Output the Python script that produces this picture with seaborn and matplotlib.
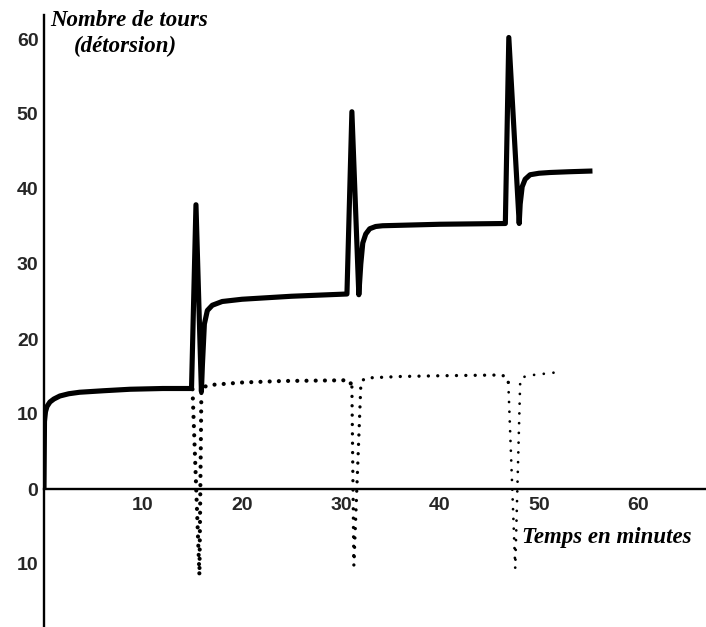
import matplotlib
matplotlib.use("Agg")
import matplotlib.pyplot as plt
import seaborn as sns
import pandas as pd

# ---- data ----
solid_t = [0, 0.05, 0.15, 0.3, 0.6, 1.0, 1.6, 2.5, 3.6, 6.0, 8.7, 12.0, 14.9,
           15.35, 15.9, 16.0, 16.2, 16.5, 17.0, 18.0, 20.0, 25.0, 30.6,
           31.1, 31.8, 32.0, 32.2, 32.5, 32.9, 33.5, 34.2, 40.0, 46.6,
           46.95, 48.0, 48.1, 48.3, 48.6, 49.1, 50.0, 51.1, 53.0, 55.4]
solid_v = [0, 9.0, 10.3, 11.0, 11.6, 12.0, 12.4, 12.7, 12.9, 13.1, 13.3, 13.4, 13.4,
           37.9, 13.0, 16.5, 22.0, 23.8, 24.5, 25.0, 25.3, 25.7, 26.0,
           50.3, 25.9, 30.0, 32.8, 34.0, 34.7, 35.0, 35.1, 35.3, 35.4,
           60.2, 35.4, 38.0, 40.3, 41.3, 41.9, 42.1, 42.2, 42.3, 42.4]

dot1_t = [15.0, 15.7, 15.9, 16.5, 17.1, 20.0, 24.1, 30.6, 30.9, 31.1]
dot1_v = [13.3, -11.5, 13.4, 13.8, 13.9, 14.2, 14.4, 14.5, 14.4, 13.6]
dot2_t = [31.1, 31.3, 32.0, 32.1, 32.5, 36.0, 40.0, 46.1, 46.7, 46.9]
dot2_v = [13.6, -10.2, 13.8, 14.4, 14.8, 15.0, 15.1, 15.2, 15.0, 14.2]
dot3_t = [46.9, 47.6, 48.1, 48.3, 49.4, 52.1]
dot3_v = [14.2, -10.6, 14.3, 14.9, 15.2, 15.6]

y_ticks = [-10, 0, 10, 20, 30, 40, 50, 60]
y_tick_labels = ["10", "0", "10", "20", "30", "40", "50", "60"]
x_ticks = [10, 20, 30, 40, 50, 60]
x_tick_labels = ["10", "20", "30", "40", "50", "60"]

sns.set_style("white")
plt.rcParams["font.family"] = ["Liberation Sans", "DejaVu Sans"]

fig = plt.figure(figsize=(7.06, 6.27), dpi=100)
W, H = 706, 627
x0_px, y0_px = 44, 489
sx, sy = 9.9, 7.5
ax = fig.add_axes([x0_px / W, 0, (W - x0_px) / W, (H - 15) / H])
ax.set_xlim(0, (W - x0_px) / sx)
ax.set_ylim(-(H - y0_px) / sy, (y0_px - 15) / sy)

sns.lineplot(x=solid_t, y=solid_v, sort=False, estimator=None, ax=ax,
             color="black", lw=3.7, solid_joinstyle="round", solid_capstyle="butt")

for t, v, lw, gap in [(dot1_t, dot1_v, 3.0, 2.2), (dot2_t, dot2_v, 2.4, 2.8),
                      (dot3_t, dot3_v, 2.0, 3.5)]:
    sns.lineplot(x=t, y=v, sort=False, estimator=None, ax=ax, color="black",
                 lw=lw, linestyle=(0, (0.01, gap)), dash_capstyle="round")

for s in ["top", "right"]:
    ax.spines[s].set_visible(False)
ax.spines["left"].set_position(("data", 0))
ax.spines["bottom"].set_position(("data", 0))
for s in ["left", "bottom"]:
    ax.spines[s].set_linewidth(1.7)
    ax.spines[s].set_color("black")

ax.set_yticks(y_ticks)
ax.set_yticklabels(y_tick_labels)
ax.set_xticks(x_ticks)
ax.set_xticklabels(x_tick_labels)
ax.tick_params(axis="both", direction="inout", length=6, width=1.8, color="black",
               labelsize=14, pad=1)
for lab in ax.get_xticklabels() + ax.get_yticklabels():
    lab.set_fontweight("bold")
ax.tick_params(axis="x", pad=3)
ax.grid(False)
ax.patch.set_alpha(0)

script = dict(family=["Liberation Serif", "DejaVu Serif"], style="italic",
              fontweight="bold", color="black")
fig.text(129 / W, 1 - 20 / H, "Nombre de tours", ha="center", va="center",
         fontsize=16.5, **script)
fig.text(125 / W, 1 - 46 / H, "(détorsion)", ha="center", va="center",
         fontsize=16.5, **script)
fig.text(607 / W, 1 - 538 / H, "Temps en minutes", ha="center", va="center",
         fontsize=16.5, **script)

fig.savefig("out.png", dpi=100)
